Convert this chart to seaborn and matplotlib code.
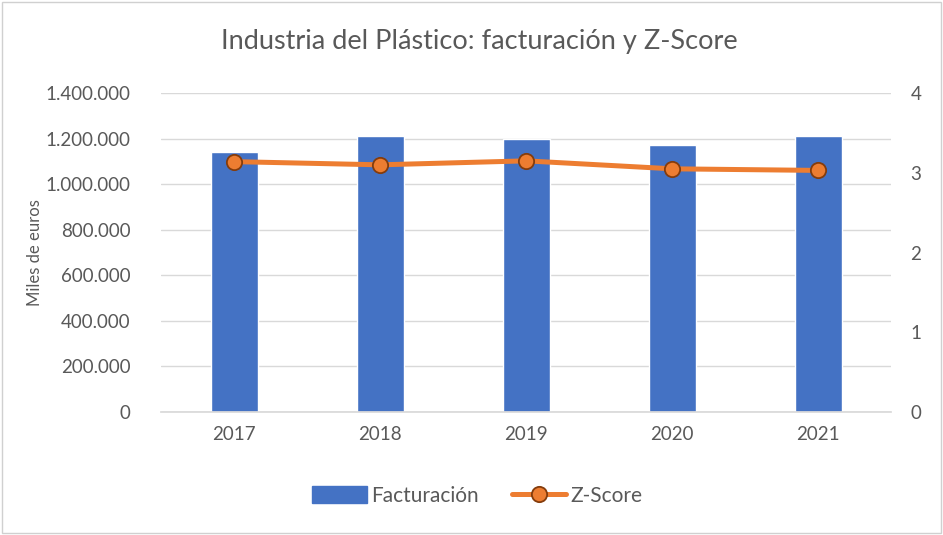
import matplotlib
matplotlib.use("Agg")
import matplotlib.pyplot as plt
import seaborn as sns
import pandas as pd
from matplotlib.ticker import FuncFormatter, MultipleLocator
from matplotlib.patches import Rectangle
from matplotlib.lines import Line2D

# data
years = ["2017", "2018", "2019", "2020", "2021"]
facturacion = [1142000, 1211000, 1198000, 1171000, 1211000]
zscore = [3.14, 3.10, 3.15, 3.05, 3.03]

BLUE = "#4472C4"
ORANGE = "#ED7D31"
TEXT = "#595959"
GRID = "#D9D9D9"

sns.set_theme(style="white")
plt.rcParams["font.family"] = ["Lato", "DejaVu Sans"]

df = pd.DataFrame({"year": years, "fact": facturacion, "z": zscore})

fig = plt.figure(figsize=(9.43, 5.35), dpi=100)
ax = fig.add_axes([0.171, 0.23, 0.774, 0.596])

sns.barplot(data=df, x="year", y="fact", color=BLUE, saturation=1, width=0.32, ax=ax, zorder=2)
ax.set_ylim(0, 1400000)
ax.yaxis.set_major_locator(MultipleLocator(200000))
ax.yaxis.set_major_formatter(FuncFormatter(lambda v, p: f"{int(v):,}".replace(",", ".")))
ax.grid(axis="y", color=GRID, linewidth=1, zorder=0)
ax.set_axisbelow(True)
ax.set_xlabel("")
ax.set_ylabel("Miles de euros", color=TEXT, fontsize=12)
ax.yaxis.set_label_coords(-0.162, 0.5)
for s in ["top", "right", "left"]:
    ax.spines[s].set_visible(False)
ax.spines["bottom"].set_color(GRID)
ax.tick_params(axis="both", colors=TEXT, labelsize=13.5, length=0)
ax.tick_params(axis="y", pad=22)
ax.tick_params(axis="x", pad=10)

ax2 = ax.twinx()
sns.pointplot(data=df, x="year", y="z", color=ORANGE, ax=ax2, markers="o",
              markersize=11, markeredgecolor="#843C0C", markeredgewidth=1.3,
              linewidth=3.6)
ax2.set_ylim(0, 4)
ax2.yaxis.set_major_locator(MultipleLocator(1))
ax2.set_ylabel("")
for s in ["top", "right", "left", "bottom"]:
    ax2.spines[s].set_visible(False)
ax2.tick_params(axis="y", colors=TEXT, labelsize=13.5, length=0, pad=14)

fig.suptitle("Industria del Plástico: facturación y Z-Score", x=0.508, y=0.945,
             fontsize=19.5, color=TEXT)

handles = [
    Rectangle((0, 0), 1, 1, color=BLUE),
    Line2D([0], [0], color=ORANGE, linewidth=3.6, marker="o", markersize=11,
           markerfacecolor=ORANGE, markeredgecolor="#843C0C", markeredgewidth=1.3),
]
leg = fig.legend(handles, ["Facturación", "Z-Score"], loc="center", bbox_to_anchor=(0.506, 0.073),
                 ncol=2, frameon=False, fontsize=15, handlelength=2.6, handleheight=0.9,
                 columnspacing=1.6, handletextpad=0.2)
for t in leg.get_texts():
    t.set_color(TEXT)

fig.patches.append(Rectangle((0.002, 0.003), 0.996, 0.994, transform=fig.transFigure,
                             fill=False, edgecolor="#D0D0D0", linewidth=1))

fig.savefig("out.png", dpi=100)
